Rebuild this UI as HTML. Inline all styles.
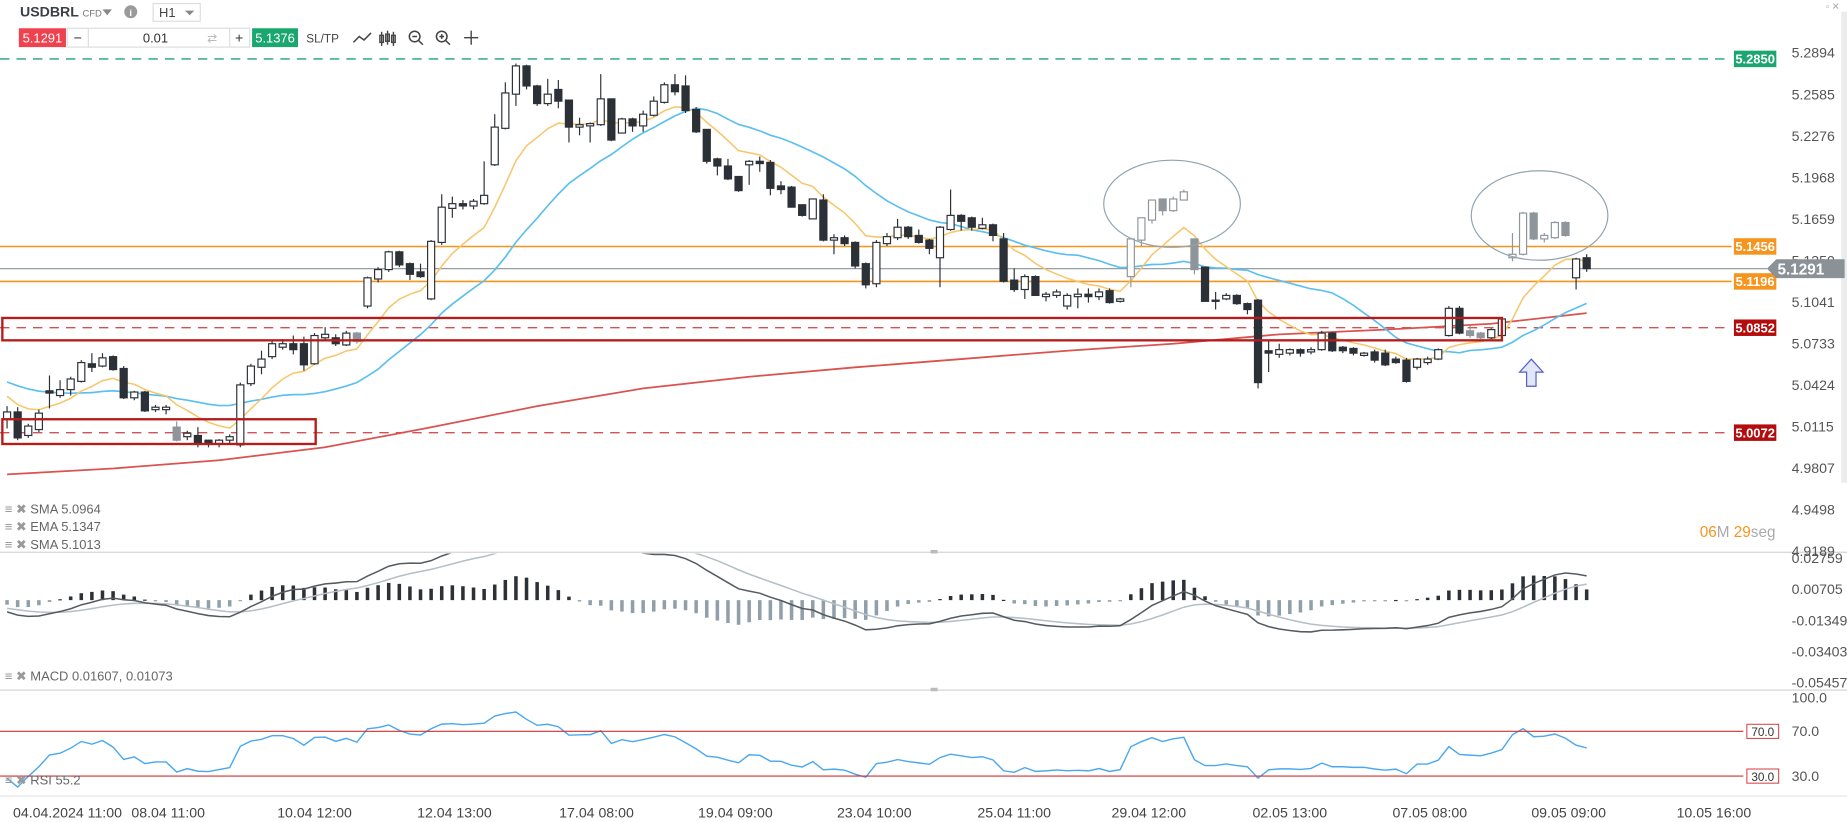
<!DOCTYPE html>
<html><head><meta charset="utf-8">
<style>
html,body{margin:0;padding:0;background:#fff;overflow:hidden}
svg{display:block;font-family:"Liberation Sans",sans-serif}
</style></head>
<body>
<svg id="chart" width="1847" height="822" viewBox="0 0 1568 698" preserveAspectRatio="none" xmlns="http://www.w3.org/2000/svg">
<defs>
 <clipPath id="clipP"><rect x="0" y="0" width="1480" height="468"/></clipPath>
 <clipPath id="clipM"><rect x="0" y="470" width="1480" height="115"/></clipPath>
 <clipPath id="clipR"><rect x="0" y="587" width="1480" height="88"/></clipPath>
</defs>
<rect x="0" y="0" width="1568" height="698" fill="#fff"/>
<g>
 <text x="17" y="14" font-size="12" font-weight="bold" fill="#3a3f44">USDBRL</text>
 <text x="70" y="14" font-size="8" fill="#777">CFD</text>
 <path d="M87 8 L95 8 L91 13 Z" fill="#888"/>
 <circle cx="111" cy="10" r="5.5" fill="#9a9a9a"/>
 <text x="111" y="13.5" font-size="8" font-weight="bold" fill="#fff" text-anchor="middle">i</text>
 <rect x="130" y="3" width="40" height="15" fill="#fff" stroke="#ddd"/>
 <text x="135" y="14.5" font-size="11" fill="#444">H1</text>
 <path d="M157 9 L165 9 L161 13 Z" fill="#888"/>
 <rect x="16" y="24" width="40" height="16" fill="#f0414f"/>
 <text x="36" y="36" font-size="11" fill="#fff" text-anchor="middle">5.1291</text>
 <rect x="57" y="24" width="155" height="16" fill="#fff" stroke="#ddd"/>
 <line x1="75" y1="24" x2="75" y2="40" stroke="#ddd"/><line x1="195" y1="24" x2="195" y2="40" stroke="#ddd"/>
 <text x="66" y="36" font-size="12" fill="#333" text-anchor="middle">−</text>
 <text x="132" y="36" font-size="11" fill="#333" text-anchor="middle">0.01</text>
 <text x="180" y="36" font-size="10" fill="#bbb" text-anchor="middle">⇄</text>
 <text x="203" y="36" font-size="12" fill="#333" text-anchor="middle">+</text>
 <rect x="214" y="24" width="39" height="16" fill="#1aa76f"/>
 <text x="233.5" y="36" font-size="11" fill="#fff" text-anchor="middle">5.1376</text>
 <text x="260" y="36" font-size="10" fill="#444">SL/TP</text>
 <polyline points="300,36 305,31 309,34 315,28" fill="none" stroke="#444" stroke-width="1.3"/>
 <g stroke="#444" stroke-width="1.2" fill="none"><line x1="324" y1="27" x2="324" y2="39"/><rect x="322.5" y="30" width="3" height="6"/><line x1="329" y1="26" x2="329" y2="38"/><rect x="327.5" y="29" width="3" height="6"/><line x1="334" y1="27" x2="334" y2="39"/><rect x="332.5" y="30" width="3" height="6"/></g>
 <g stroke="#444" stroke-width="1.3" fill="none"><circle cx="352" cy="31" r="4.5"/><line x1="355" y1="34" x2="359" y2="38"/><line x1="350" y1="31" x2="354" y2="31"/></g>
 <g stroke="#444" stroke-width="1.3" fill="none"><circle cx="375" cy="31" r="4.5"/><line x1="378" y1="34" x2="382" y2="38"/><line x1="373" y1="31" x2="377" y2="31"/><line x1="375" y1="29" x2="375" y2="33"/></g>
 <g stroke="#444" stroke-width="1.2" fill="none"><line x1="394" y1="32" x2="406" y2="32"/><line x1="400" y1="26" x2="400" y2="38"/></g>
 <text x="1550" y="8" font-size="8" fill="#aaa">▫ ✕</text>
</g>
<rect x="1563" y="10" width="5" height="400" fill="#ececec"/>
<line x1="0" y1="469" x2="1568" y2="469" stroke="#d9d9d9" stroke-width="1.2"/>
<line x1="0" y1="586" x2="1568" y2="586" stroke="#d9d9d9" stroke-width="1.2"/>
<line x1="0" y1="676" x2="1568" y2="676" stroke="#e3e3e3" stroke-width="1"/>
<rect x="790" y="467" width="6" height="3" fill="#bbb"/><rect x="790" y="584" width="6" height="3" fill="#bbb"/>
<g id="gLevels"></g>
<g id="gMA" clip-path="url(#clipP)"></g>
<g id="gCandles" clip-path="url(#clipP)"></g>
<g id="gAnnot">
 <rect x="2" y="270" width="1273" height="19" fill="none" stroke="#b71c1c" stroke-width="2"/>
 <rect x="2" y="356" width="266" height="21" fill="none" stroke="#b71c1c" stroke-width="2"/>
 <ellipse cx="995" cy="173" rx="58" ry="37" fill="none" stroke="#90a4ae" stroke-width="1"/>
 <ellipse cx="1307" cy="183" rx="58" ry="38" fill="none" stroke="#90a4ae" stroke-width="1"/>
 <polygon points="1300,305 1290,316 1296,316 1296,328 1304,328 1304,316 1310,316" fill="#e3e6f8" stroke="#4c5fc7" stroke-width="1"/>
</g>
<g id="gMacd" clip-path="url(#clipM)"></g>
<g id="gRsi" clip-path="url(#clipR)"></g>
<g id="gAxis"></g>
<g font-size="11" fill="#666">
 <text x="4" y="436"><tspan fill="#999">≡ ✖</tspan> SMA 5.0964</text>
 <text x="4" y="451"><tspan fill="#999">≡ ✖</tspan> EMA 5.1347</text>
 <text x="4" y="466"><tspan fill="#999">≡ ✖</tspan> SMA 5.1013</text>
 <text x="4" y="578"><tspan fill="#999">≡ ✖</tspan> MACD 0.01607, 0.01073</text>
 <text x="4" y="666"><tspan fill="#999">≡ ✖</tspan> RSI 55.2</text>
</g>
<text x="1443" y="456" font-size="13"><tspan fill="#f7941d">06</tspan><tspan fill="#aaa">M </tspan><tspan fill="#f7941d">29</tspan><tspan fill="#aaa">seg</tspan></text>
</svg>
<script>
const opens=[5.0173,5.0226,5.0051,5.0095,5.0383,5.0348,5.0392,5.0453,5.0584,5.0567,
5.0637,5.0549,5.0331,5.0374,5.0243,5.0243,5.0113,5.0042,5.0051,5.0016,
4.9989,5.0016,4.9981,5.0436,5.0558,5.0637,5.0707,5.0733,5.0733,5.0584,
5.0777,5.0777,5.0724,5.0812,5.1013,5.1214,5.1284,5.1416,5.1328,5.1267,
5.1066,5.1486,5.1739,5.1774,5.1757,5.1774,5.2063,5.2334,5.2588,5.2798,
5.2649,5.2518,5.2623,5.2544,5.2343,5.2352,5.2361,5.2553,5.2299,5.2404,
5.2352,5.2431,5.2527,5.2658,5.2649,5.2474,5.2326,5.2107,5.2054,5.1976,
5.2063,5.2089,5.2081,5.1906,5.1897,5.1766,5.1661,5.1801,5.1503,5.1521,
5.1486,5.1328,5.1179,5.1477,5.1521,5.1599,5.1538,5.1503,5.1372,5.1582,
5.1687,5.1669,5.1591,5.1617,5.1512,5.1206,5.1136,5.1232,5.1083,5.1092,
5.1013,5.1083,5.1101,5.1083,5.1127,5.1048,5.1232,5.1503,5.1652,5.1809,
5.1722,5.1801,5.1512,5.1302,5.1057,5.1066,5.1092,5.1031,5.1057,5.0681,
5.0654,5.0663,5.0689,5.0672,5.0689,5.0812,5.0707,5.0698,5.0646,5.0672,
5.0663,5.0619,5.0611,5.0558,5.0593,5.0619,5.0794,5.0996,5.0829,5.0812,
5.0777,5.0794,5.1372,5.1398,5.1704,5.1512,5.1521,5.1634,5.1223,5.1372];
const closes=[5.0226,5.0033,5.0121,5.0217,5.0366,5.0392,5.0471,5.0593,5.0558,5.0628,
5.0541,5.0331,5.0374,5.0234,5.0261,5.0261,5.0016,5.0068,4.9998,4.9989,
5.0016,5.0042,5.0427,5.0567,5.0619,5.0733,5.0733,5.0689,5.0576,5.0794,
5.0803,5.0733,5.0812,5.0751,5.1223,5.1284,5.1416,5.1319,5.1249,5.1232,
5.1494,5.1748,5.1774,5.1757,5.1792,5.1836,5.2343,5.2597,5.2798,5.2649,
5.2518,5.2588,5.2536,5.2343,5.2361,5.2369,5.2553,5.2247,5.2404,5.2352,
5.2439,5.2536,5.2658,5.2606,5.2466,5.2308,5.2089,5.2054,5.1958,5.1871,
5.2089,5.2072,5.1888,5.1879,5.1748,5.1687,5.1809,5.1503,5.1521,5.1477,
5.1311,5.1171,5.1486,5.1529,5.1599,5.1529,5.1486,5.1442,5.1599,5.1687,
5.1643,5.1599,5.1617,5.1538,5.1197,5.1136,5.1232,5.1092,5.1101,5.1118,
5.1092,5.1101,5.1083,5.1118,5.1039,5.1066,5.1512,5.1669,5.1801,5.1722,
5.1809,5.1862,5.1284,5.1048,5.1048,5.1092,5.1031,5.0987,5.0444,5.0663,
5.0689,5.0689,5.0663,5.0689,5.0812,5.0681,5.0681,5.0663,5.0663,5.0611,
5.0576,5.0593,5.0453,5.0619,5.0619,5.0689,5.0996,5.0812,5.0794,5.0777,
5.0838,5.0917,5.1398,5.1704,5.1512,5.1538,5.1634,5.1538,5.1363,5.1291];
const highs=[5.0269,5.0261,5.0138,5.0243,5.0497,5.0462,5.0488,5.0611,5.0663,5.0663,
5.0646,5.0567,5.0383,5.0383,5.0278,5.0278,5.0156,5.0086,5.0113,5.0016,
5.0024,5.0059,5.0444,5.0584,5.0681,5.0751,5.0768,5.0794,5.0786,5.0812,
5.0856,5.0803,5.0829,5.0821,5.1232,5.1302,5.1424,5.1424,5.1337,5.1328,
5.1503,5.1844,5.1827,5.1801,5.1809,5.2089,5.2439,5.2676,5.2816,5.2807,
5.2658,5.2702,5.2693,5.2544,5.2413,5.2378,5.2737,5.2553,5.2413,5.2413,
5.2466,5.2571,5.2676,5.2737,5.2728,5.2492,5.2326,5.2116,5.2107,5.1976,
5.2098,5.2124,5.2098,5.1941,5.1906,5.1766,5.1809,5.1844,5.1547,5.1538,
5.1494,5.1337,5.1503,5.1556,5.1661,5.1608,5.1582,5.1512,5.1608,5.1879,
5.1696,5.1678,5.1669,5.1626,5.1556,5.1293,5.1249,5.1241,5.1118,5.1136,
5.1109,5.1144,5.1144,5.1144,5.1144,5.1074,5.1521,5.1669,5.1801,5.1809,
5.1827,5.1879,5.1512,5.1302,5.1118,5.1109,5.1101,5.1039,5.1066,5.0751,
5.0733,5.0698,5.0698,5.0707,5.0829,5.0821,5.0716,5.0707,5.0672,5.0689,
5.0689,5.0637,5.0628,5.0628,5.0637,5.0698,5.1013,5.1013,5.0873,5.0821,
5.0847,5.0926,5.1556,5.1713,5.1713,5.1556,5.1643,5.1643,5.1372,5.1398];
const lows=[5.0103,5.0016,5.0033,5.0077,5.0252,5.0331,5.0348,5.0444,5.0523,5.0558,
5.0532,5.0322,5.0313,5.0226,5.0226,5.0208,5.0007,5.0016,4.9963,4.9963,
4.9963,4.9989,4.9963,5.0418,5.0506,5.0619,5.0689,5.0654,5.0532,5.0576,
5.0759,5.0716,5.0716,5.0733,5.0996,5.1188,5.1267,5.1302,5.1206,5.1223,
5.1057,5.1468,5.1669,5.1731,5.1731,5.1766,5.2054,5.2326,5.2501,5.2623,
5.2501,5.2501,5.2483,5.2229,5.2282,5.2229,5.2352,5.2238,5.2299,5.2308,
5.2308,5.2422,5.2518,5.2579,5.2448,5.2299,5.2072,5.1984,5.1949,5.1862,
5.1914,5.2011,5.1836,5.1844,5.1748,5.1678,5.1661,5.1494,5.1398,5.1459,
5.1293,5.1144,5.1153,5.1459,5.1503,5.1512,5.1477,5.1398,5.1153,5.1573,
5.1573,5.1573,5.1582,5.1494,5.1188,5.1118,5.1066,5.1092,5.1048,5.1074,
5.0987,5.0996,5.1039,5.1057,5.1031,5.1039,5.1153,5.1459,5.1626,5.1687,
5.1713,5.1801,5.1249,5.1048,5.0987,5.1057,5.1022,5.0952,5.0401,5.0523,
5.0628,5.0646,5.0637,5.0654,5.0681,5.0672,5.0663,5.0646,5.0637,5.0593,
5.0567,5.0584,5.0444,5.0541,5.0576,5.0611,5.0786,5.0803,5.0777,5.0768,
5.0768,5.0786,5.1346,5.1389,5.1503,5.1486,5.1512,5.1529,5.1136,5.1267];
const priorCloses=[5.060,5.058,5.055,5.052,5.050,5.052,5.055,5.050,5.046,5.044,5.048,5.050,5.046,5.042,5.040,5.036,5.032,5.030,5.028];
const sma200Idx=[0,10,20,30,40,50,60,70,80,90,100,110,120,130,140,149];
const sma200Vals=[4.9762,4.9806,4.9867,4.9963,5.0112,5.0269,5.0401,5.0488,5.0558,5.0619,5.0681,5.0733,5.0803,5.0838,5.0882,5.0960];
const levelPrices=[5.2850,5.1456,5.1196,5.0852,5.0072];
const levelLabels=["5.2850","5.1456","5.1196","5.0852","5.0072"];
const priceTicks=[5.2894,5.2585,5.2276,5.1968,5.1659,5.1350,5.1041,5.0733,5.0424,5.0115,4.9807,4.9498,4.9189];
const macdTicks=[0.02759,0.00705,-0.01349,-0.03403,-0.05457];
const rsiTicks=[100,70,30];
const timeIdx=[5.7,15.2,29,42.2,55.6,68.7,81.8,95,107.7,121,134.2,147.3,161];
const timeLabels=["04.04.2024 11:00","08.04 11:00","10.04 12:00","12.04 13:00","17.04 08:00","19.04 09:00","23.04 10:00","25.04 11:00","29.04 12:00","02.05 13:00","07.05 08:00","09.05 09:00","10.05 16:00"];
const currentPrice=5.1291;

const NS='http://www.w3.org/2000/svg';
function mk(tag,attrs,parent){const e=document.createElementNS(NS,tag);for(const k in attrs)e.setAttribute(k,attrs[k]);parent.appendChild(e);return e;}
const xI=i=>6+9*i;
const yP=p=>45+(5.2894-p)*1142.4;
const yM=v=>509.6-v*1290;
const yR=v=>621+(70-v)*0.95;

const gLevels=document.getElementById('gLevels'),gMA=document.getElementById('gMA'),gC=document.getElementById('gCandles'),gM=document.getElementById('gMacd'),gR=document.getElementById('gRsi'),gA=document.getElementById('gAxis');

const all=priorCloses.concat(closes);const off=priorCloses.length;
function emaArr(arr,n){const a=2/(n+1);let v=arr[0];return arr.map(x=>v=v+a*(x-v));}
const ema9=emaArr(all,9).slice(off);
const sma20=all.map((c,i)=>{const s=Math.max(0,i-19);const w=all.slice(s,i+1);return w.reduce((a,b)=>a+b,0)/w.length;}).slice(off);
const e12=emaArr(all,12),e26=emaArr(all,26);
const macdAll=all.map((c,i)=>e12[i]-e26[i]);
const sigAll=emaArr(macdAll,9);
const macd=macdAll.slice(off),signal=sigAll.slice(off);
let ag=0.003,al=0.003;const rsiAll=[50];
for(let i=1;i<all.length;i++){const d=all[i]-all[i-1];const g=Math.max(d,0),l=Math.max(-d,0);ag=ag+(g-ag)/14;al=al+(l-al)/14;rsiAll.push(al===0?100:100-100/(1+ag/al));}
const rsi=rsiAll.slice(off);

const levelColors=["#1aa571","#f7941d","#f7941d","#c62828","#c62828"];
const levelDash=["8 6","","","8 6","8 6"];
const labelFill=["#1aa571","#f7941d","#f7941d","#b30d0d","#b30d0d"];
levelPrices.forEach((p,k)=>{
 const ln=mk('line',{x1:0,x2:1470,y1:yP(p),y2:yP(p),stroke:levelColors[k],'stroke-width':k===1||k===2?1.3:1.2,'stroke-dasharray':levelDash[k],opacity:k>=3?0.8:1},gLevels);
 
 
 const bx=mk('rect',{x:1472,y:yP(p)-7,width:36,height:14,fill:labelFill[k]},gLevels);
 
 
 const tx=mk('text',{x:1490,y:yP(p)+4,'font-size':11,'font-weight':'bold',fill:'#fff','text-anchor':'middle'},gLevels);
 tx.textContent=levelLabels[k];
 
 
});
const cl=mk('line',{x1:0,x2:1500,y1:yP(currentPrice),y2:yP(currentPrice),stroke:'#8a9297','stroke-width':1},gLevels);



function pathFrom(vals,idx,yf){return vals.map((v,k)=>(k?'L':'M')+xI(idx?idx[k]:k).toFixed(1)+' '+yf(v).toFixed(1)).join(' ');}
const red=mk('path',{d:pathFrom(sma200Vals,sma200Idx,yP),fill:'none',stroke:'#d9534f','stroke-width':1.5},gMA);


const blue=mk('path',{d:pathFrom(sma20,null,yP),fill:'none',stroke:'#5bbfef','stroke-width':1.4},gMA);


const yel=mk('path',{d:pathFrom(ema9,null,yP),fill:'none',stroke:'#f7c66b','stroke-width':1.3},gMA);



const dimSet=new Set([16,33,106,107,108,109,110,111,112,138,139,142,143,144,145,146,147]);
closes.forEach((c,i)=>{
 const o=opens[i],x=xI(i),bull=c>=o,dim=dimSet.has(i);
 const col=dim?'#8e969b':'#2b3136';
 const w=mk('line',{x1:x,x2:x,y1:yP(highs[i]),y2:yP(lows[i]),stroke:col,'stroke-width':1},gC);
 
 
 const top=yP(Math.max(o,c)),bot=yP(Math.min(o,c));
 const b=mk('rect',{x:x-3,y:top,width:6,height:Math.max(1,bot-top),fill:bull?'#fff':col,stroke:col,'stroke-width':1},gC);
 
 
});

macd.forEach((m,i)=>{
 const h=(m-signal[i])*1.3,x=xI(i);
 const y0=yM(0),y1=yM(h);
 const r=mk('rect',{x:x-1.5,y:Math.min(y0,y1),width:3,height:Math.max(1,Math.abs(y1-y0)),fill:h>=0?'#2b3136':'#8fa0aa'},gM);
 
 
});
const sl=mk('path',{d:pathFrom(signal,null,yM),fill:'none',stroke:'#b4bfc6','stroke-width':1.3},gM);


const ml=mk('path',{d:pathFrom(macd,null,yM),fill:'none',stroke:'#555c61','stroke-width':1.3},gM);



[70,30].forEach(v=>{
 const l=mk('line',{x1:0,x2:1480,y1:yR(v),y2:yR(v),stroke:'#d32f2f','stroke-width':1},gA);
 
 
 const b=mk('rect',{x:1483,y:yR(v)-6,width:27,height:12,fill:'#fff',stroke:'#d32f2f','stroke-width':0.8},gA);
 
 
 const t=mk('text',{x:1496.5,y:yR(v)+4,'font-size':10,fill:'#333','text-anchor':'middle'},gA);
 t.textContent=v.toFixed(1);
 
 
});
const rl=mk('path',{d:pathFrom(rsi,null,yR),fill:'none',stroke:'#4aa8f0','stroke-width':1.2},gR);



priceTicks.forEach(p=>{
 const t=mk('text',{x:1521,y:yP(p)+4,'font-size':12,fill:'#555'},gA);
 t.textContent=p.toFixed(4);
 
 
});
const cp=mk('path',{d:`M1500 ${yP(currentPrice)} L1508 ${yP(currentPrice)-8} L1566 ${yP(currentPrice)-8} L1566 ${yP(currentPrice)+8} L1508 ${yP(currentPrice)+8} Z`,fill:'#8a9297'},gA);


const cpt=mk('text',{x:1509,y:yP(currentPrice)+5,'font-size':13,'font-weight':'bold',fill:'#fff'},gA);
cpt.textContent=currentPrice.toFixed(4);


macdTicks.forEach(v=>{
 const t=mk('text',{x:1521,y:yM(v)+4,'font-size':12,fill:'#555'},gA);
 t.textContent=v.toFixed(5);
 
 
});
rsiTicks.forEach(v=>{
 const t=mk('text',{x:1521,y:yR(v)+4,'font-size':12,fill:'#555'},gA);
 t.textContent=v.toFixed(1);
 
 
});
timeLabels.forEach((s,k)=>{
 const t=mk('text',{x:xI(timeIdx[k]),y:694,'font-size':12,fill:'#444','text-anchor':'middle'},gA);
 t.textContent=s;
 
 
});
</script>
</body></html>
